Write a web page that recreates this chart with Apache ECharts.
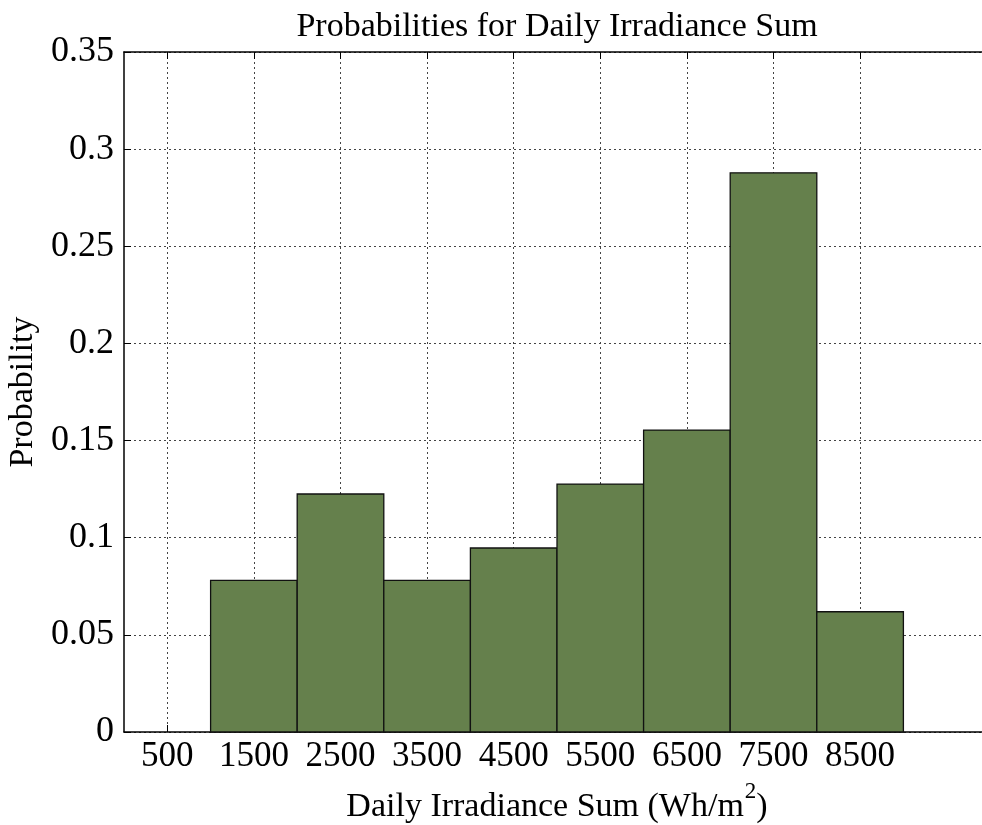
<!DOCTYPE html>
<html>
<head>
<meta charset="utf-8">
<script src="https://cdn.jsdelivr.net/npm/echarts@6/dist/echarts.min.js"></script>
<style>
html,body{margin:0;padding:0;background:#fff;}
#chart{width:982px;height:825px;}
</style>
</head>
<body>
<div id="chart"></div>
<script>
// Bin edges (lower, upper) and probabilities
const binStarts = [1000, 2000, 3000, 4000, 5000, 6000, 7000, 8000];
const binEnds   = [2000, 3000, 4000, 5000, 6000, 7000, 8000, 9000];
const probabilities = [0.078, 0.1225, 0.078, 0.0947, 0.1276, 0.1554, 0.2878, 0.0619];
const xTickValues = [500, 1500, 2500, 3500, 4500, 5500, 6500, 7500, 8500];
const yTickLabels = ['0', '0.05', '0.1', '0.15', '0.2', '0.25', '0.3', '0.35'];

const FONT = '"Liberation Serif", "Times New Roman", serif';
const chart = echarts.init(document.getElementById('chart'), null, {renderer: 'canvas'});

const data = binStarts.map((s, i) => [s, binEnds[i], probabilities[i]]);

chart.setOption({
  animation: false,
  backgroundColor: '#ffffff',
  title: {
    text: 'Probabilities for Daily Irradiance Sum',
    left: 552, top: 5, textAlign: 'center',
    textStyle: {fontFamily: FONT, fontWeight: 'normal', fontSize: 34, color: '#000'}
  },
  grid: {left: 124, top: 52, bottom: 93, right: -8, outerBoundsMode: 'none', containLabel: false},
  xAxis: [{
    type: 'value', min: 0, max: 10000,
    position: 'bottom',
    name: '{a|Daily Irradiance Sum (Wh/m}{s|2}{a|)}',
    nameLocation: 'middle', nameGap: 48,
    nameTextStyle: {
      fontFamily: FONT, fontSize: 34, color: '#000',
      rich: {
        a: {fontFamily: FONT, fontSize: 34, color: '#000', lineHeight: 44, verticalAlign: 'bottom'},
        s: {fontFamily: FONT, fontSize: 23, color: '#000', lineHeight: 22, verticalAlign: 'top', padding: [0, 0, 0, 1]}
      }
    },
    axisLine: {show: true, lineStyle: {color: '#000', width: 1.5}},
    axisTick: {show: true, inside: true, length: 7, customValues: xTickValues, lineStyle: {color: '#000'}},
    axisLabel: {customValues: xTickValues, margin: 7, fontFamily: FONT, fontSize: 35, color: '#000',
      formatter: (v) => String(v)},
    splitLine: {show: true, lineStyle: {color: '#444', type: [2, 3], width: 1}}
  }, {
    type: 'value', min: 0, max: 10000, position: 'top',
    axisLine: {show: true, onZero: false, lineStyle: {color: '#000', width: 1.5}},
    axisTick: {show: true, inside: true, length: 7, customValues: xTickValues, lineStyle: {color: '#000'}},
    axisLabel: {show: false},
    splitLine: {show: false}
  }],
  yAxis: {
    type: 'value', min: 0, max: 0.35, interval: 0.05,
    name: 'Probability', nameLocation: 'middle', nameGap: 80,
    nameTextStyle: {fontFamily: FONT, fontSize: 34, color: '#000'},
    axisLine: {show: true, lineStyle: {color: '#000', width: 1.5}},
    axisTick: {show: true, inside: true, length: 7, lineStyle: {color: '#000'}},
    axisLabel: {
      margin: 10, fontFamily: FONT, fontSize: 36, color: '#000',
      formatter: (v) => yTickLabels[Math.round(v / 0.05)]
    },
    splitLine: {show: true, lineStyle: {color: '#444', type: [2, 3], width: 1}}
  },
  series: [{
    type: 'custom',
    xAxisIndex: 0, yAxisIndex: 0,
    data: data,
    encode: {x: [0, 1], y: 2},
    renderItem: function (params, api) {
      const p0 = api.coord([api.value(0), api.value(2)]);
      const p1 = api.coord([api.value(1), 0]);
      return {
        type: 'rect',
        shape: {x: p0[0], y: p0[1], width: p1[0] - p0[0], height: p1[1] - p0[1]},
        style: {fill: '#65804c', stroke: '#111', lineWidth: 1.3}
      };
    }
  }]
});
</script>
</body>
</html>
